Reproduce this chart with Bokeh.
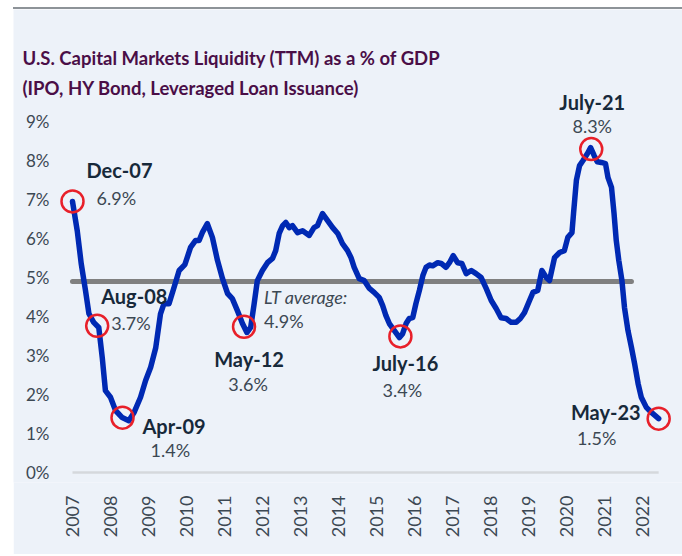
import numpy as np
from bokeh.plotting import figure
from bokeh.models import Range1d, FixedTicker, Label, ColumnDataSource
from bokeh.core.properties import value
from bokeh.embed import file_html
from bokeh.resources import INLINE

# ---------------- data ----------------
title_line1 = "U.S. Capital Markets Liquidity (TTM) as a % of GDP"
title_line2 = "(IPO, HY Bond, Leveraged Loan Issuance)"

# month index counted from Dec-2007 (0) to May-2023 (185)
months = [0, 1.5, 2.75, 4.1, 5.2, 6.7, 8.3, 9.4, 10.4, 12, 13.6, 15.7, 17.8, 19.4,
          21.5, 23.1, 24.7, 26.3, 27.8, 28.9, 30.5, 32.1, 33.7, 35.5, 37.3, 38.9,
          40, 41, 42.6, 44.2, 45.8, 47.4, 49, 50.5, 52.1, 53.7, 55.1, 56.3, 57.4,
          58.4, 60, 61.6, 63.2, 64.2, 65.3, 66.4, 67.4, 68.5, 69.5, 71.1, 72.7,
          74.8, 76.3, 77.4, 79, 80.6, 82.2, 83.8, 85.3, 86.9, 88, 89, 90.6, 92.2,
          93.8, 95.3, 96.9, 98, 99, 100.1, 101.7, 103.3, 104.3, 105.4, 106.4,
          107.5, 108.5, 109.6, 110.7, 111.7, 112.8, 113.8, 115.4, 116.5, 118,
          119.1, 120.3, 121.7, 123, 124.4, 126, 127.5, 129.1, 130.7, 132.3, 133.9,
          135.4, 137, 138.6, 140.2, 141.5, 142.8, 144.4, 145.5, 147, 148.3, 149.7,
          150.7, 152.3, 153.9, 155.4, 156.5, 157.8, 158.3, 159.2, 160.2, 161.3,
          162.7, 163.7, 164.8, 165.8, 167.1, 168.4, 169.2, 170.3, 171.1, 171.8,
          172.6, 173.6, 174.4, 175.5, 176.6, 177.6, 178.7, 179.7, 181.3, 182.9,
          185.2]
liquidity_pct = [6.95, 6.2, 5.36, 4.67, 4.07, 3.85, 3.72, 2.95, 2.1, 1.93, 1.59, 1.41,
                 1.33, 1.53, 1.93, 2.36, 2.7, 3.2, 4.07, 4.33, 4.33, 4.75, 5.18, 5.33,
                 5.77, 5.95, 5.95, 6.15, 6.38, 6.03, 5.44, 4.97, 4.59, 4.46, 4.15,
                 3.82, 3.59, 3.72, 4.33, 4.92, 5.18, 5.38, 5.49, 5.69, 6.13, 6.33,
                 6.41, 6.28, 6.33, 6.15, 6.2, 6.08, 6.28, 6.33, 6.64, 6.46, 6.28, 6.13,
                 5.87, 5.69, 5.51, 5.26, 4.97, 4.92, 4.72, 4.62, 4.49, 4.28, 4.03,
                 3.82, 3.64, 3.46, 3.56, 3.82, 3.95, 3.97, 4.33, 4.67, 5.05, 5.26,
                 5.32, 5.3, 5.38, 5.36, 5.26, 5.38, 5.56, 5.38, 5.36, 5.1, 5.18, 5.1,
                 5.0, 4.72, 4.41, 4.2, 3.97, 3.95, 3.85, 3.85, 3.95, 4.1, 4.41, 4.62,
                 4.67, 5.18, 5.0, 4.92, 5.51, 5.64, 5.69, 6.03, 6.15, 6.64, 7.49,
                 7.87, 8.0, 8.18, 8.33, 8.13, 7.97, 7.95, 7.92, 7.56, 7.31, 6.64,
                 5.95, 5.44, 4.92, 4.23, 3.64, 3.21, 2.79, 2.28, 1.93, 1.67, 1.54,
                 1.38]

year_tick_months = [0, 12, 24, 36, 48, 60, 72, 84, 96, 108, 120, 132, 144, 156, 168, 180]
year_labels = ["2007", "2008", "2009", "2010", "2011", "2012", "2013", "2014",
               "2015", "2016", "2017", "2018", "2019", "2020", "2021", "2022"]
y_ticks = [0, 1, 2, 3, 4, 5, 6, 7, 8, 9]
y_tick_labels = ["0%", "1%", "2%", "3%", "4%", "5%", "6%", "7%", "8%", "9%"]

lt_average = 4.9
lt_average_text = "LT average:"
lt_average_pct = "4.9%"
lt_average_end_month = 176.6

ann_dates = ["Dec-07", "Aug-08", "Apr-09", "May-12", "July-16", "July-21", "May-23"]
ann_pcts = ["6.9%", "3.7%", "1.4%", "3.6%", "3.4%", "8.3%", "1.5%"]
ann_months = [0, 7.8, 15.8, 54.2, 103.6, 163.9, 185.2]

# ---------------- styling ----------------
BG = "#edf2f9"
BLUE = "#0029b3"
RED = "#e8202a"
GREY_AVG = "#808080"
DARK = "#17293a"
MID = "#3c4853"
PLUM = "#4a0e47"
FONT = "Lato"

# pixel offsets (screen, down positive) and alignment of the annotation texts
date_dx = [14, 4, 20, 5, 5, 1, -18]
date_dy = [-31, -30, 8, 32, 27, -47, -7]
date_align = ["left", "left", "left", "center", "center", "center", "right"]
pct_dx = [24, 14, 28, 4, 2, 1, -62]
pct_dy = [-3, -3, 32, 57, 54, -23, 19]
pct_align = ["left", "left", "left", "center", "center", "center", "center"]

p = figure(width=669, height=547, output_backend="svg", toolbar_location=None,
           x_range=Range1d(-18.64, 192.73), y_range=Range1d(-0.256, 11.872),
           y_axis_location=None,
           min_border_left=0, min_border_right=0, min_border_top=0,
           min_border_bottom=74, background_fill_color=BG, border_fill_color=BG,
           outline_line_color=None, title=None)
p.styles = {"margin-left": "13px", "margin-top": "7px",
            "border-top": "2px solid #8d9398"}
p.xgrid.visible = False
p.ygrid.visible = False

# x axis (years)
p.xaxis.ticker = FixedTicker(ticks=year_tick_months)
p.xaxis.major_label_overrides = {m: lab for m, lab in zip(year_tick_months, year_labels)}
p.xaxis.major_label_orientation = np.pi / 2
p.xaxis.axis_line_color = None
p.xaxis.major_tick_line_color = None
p.xaxis.minor_tick_line_color = None
p.xaxis.major_label_standoff = 7
p.xaxis.major_label_text_font = FONT
p.xaxis.major_label_text_font_size = "18px"
p.xaxis.major_label_text_color = MID

# y tick labels (placed on the y scale, right-aligned left of the plot)
for t, lab in zip(y_ticks, y_tick_labels):
    p.add_layout(Label(x=36, y=t, x_units="screen", y_units="data", text=lab,
                       text_align="right", text_baseline="middle",
                       text_font=FONT, text_font_size="17px", text_color=MID))

# baseline
p.segment(x0=[months[0]], y0=[0], x1=[months[-1]], y1=[0], line_color="#d5d8dc",
          line_width=2.5)
# long-term average
p.segment(x0=[months[0]], y0=[lt_average], x1=[lt_average_end_month], y1=[lt_average],
          line_color=GREY_AVG, line_width=5, line_cap="round")
# main series
p.line(months, liquidity_pct, line_color=BLUE, line_width=5.5, line_join="round",
       line_cap="round")

# annotation markers
ann_y = list(np.interp(ann_months, months, liquidity_pct))
p.scatter(ann_months, ann_y, size=22, fill_color=None, line_color=RED, line_width=2.5)

src = ColumnDataSource(dict(x=ann_months, y=ann_y, date=ann_dates, pct=ann_pcts,
                            ddx=date_dx, ddy=date_dy, dal=date_align,
                            pdx=pct_dx, pdy=pct_dy, pal=pct_align))
p.text(x="x", y="y", text="date", x_offset="ddx", y_offset="ddy", text_align="dal",
       text_baseline="middle", text_font=value(FONT), text_font_style="bold",
       text_font_size="20px", text_color=DARK, source=src)
p.text(x="x", y="y", text="pct", x_offset="pdx", y_offset="pdy", text_align="pal",
       text_baseline="middle", text_font=value(FONT), text_font_size="18px",
       text_color=MID, source=src)

# LT average label
p.text(x=[ann_months[3]], y=[lt_average], text=[lt_average_text], x_offset=20, y_offset=16,
       text_align="left", text_baseline="middle", text_font=value(FONT),
       text_font_style="italic", text_font_size="18px", text_color=MID)
p.text(x=[ann_months[3]], y=[lt_average], text=[lt_average_pct], x_offset=20, y_offset=40,
       text_align="left", text_baseline="middle", text_font=value(FONT),
       text_font_size="18px", text_color=MID)

# title (two lines), positioned from the bottom-left of the plot area
for txt, yy in [(title_line1, 425), (title_line2, 395)]:
    p.add_layout(Label(x=9, y=yy, x_units="screen", y_units="screen", text=txt,
                       text_font=FONT, text_font_style="bold",
                       text_font_size="18.5px", text_color=PLUM,
                       text_baseline="alphabetic"))

open("out.html", "w").write(file_html(p, INLINE))
